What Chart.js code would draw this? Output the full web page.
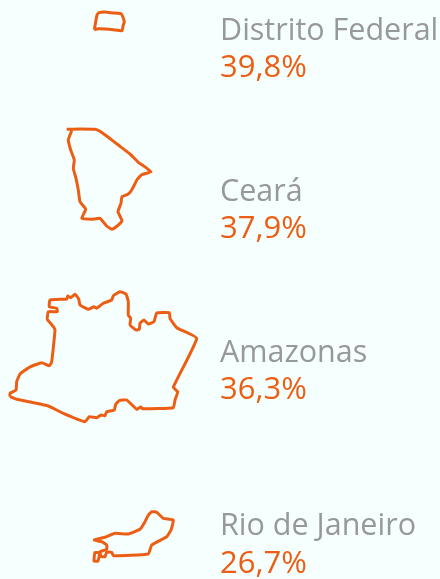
<!DOCTYPE html>
<html><head><meta charset="utf-8">
<style>html,body{margin:0;padding:0;background:#F5FFFD}canvas{display:block}</style>
<script src="https://cdn.jsdelivr.net/npm/chart.js@4/dist/chart.umd.js"></script>
</head><body>
<canvas id="c" width="440" height="579"></canvas>
<script>
const categories = ["Distrito Federal","Ceará","Amazonas","Rio de Janeiro"];
const shares = ["39,8%","37,9%","36,3%","26,7%"];
const distritoFederal = [[94.3,29.7],[95.7,21.7],[97,15],[99,12.7],[105,12],[113.3,13],[121,13.7],[123,17.3],[124.3,22],[123,26],[122,30.7],[113.3,29.7],[105,29],[98.3,28.7],[94.3,29.7]];
const ceara = [[66.7,129.3],[80,129],[95,129.3],[100,131.3],[108.3,137.3],[118.3,145],[130,154],[138.3,162.3],[143.3,165.7],[151,171.7],[141.7,174.7],[137.3,179.3],[131.7,190],[128.3,194],[122,196.7],[121,203.3],[118,211.7],[122,220.7],[118.3,225],[111.7,229.3],[106.7,226],[100,218.3],[91.7,219.3],[81.7,218.3],[85.7,209.3],[80,201.7],[78.3,190],[76,178.3],[73.3,168.3],[74.3,160],[70.7,150],[68.3,140],[71.7,130.7]];
const amazonas = [[10,396.7],[16.7,399.3],[33.3,402.7],[48.3,406],[63.3,413.3],[85,421.7],[89.3,416.7],[96.7,417.7],[101,415],[105,415.7],[106.7,411.7],[114.3,410],[115.7,404.3],[119.3,400.7],[126.7,400],[136.7,409.3],[140.7,407],[142.7,408.7],[173.3,407.7],[175,400],[177.7,391.7],[173.3,387.3],[196.7,338.3],[176.7,327.7],[170,318.3],[169.3,312.7],[156.7,313],[154,321.7],[148.3,324],[144,320],[140,323.3],[139.3,329.3],[136,330],[130,325],[130.7,318.3],[128.3,315],[128.3,301.7],[126,294],[120,291.7],[113.3,295.7],[111.7,300],[103.3,303.3],[96.7,308.3],[94,306.7],[88.3,309.3],[80,305],[78.7,299],[75,294.3],[70.7,297.7],[67.7,296],[66.7,299],[50,300],[49.3,306.7],[56.7,308.3],[57.3,311.7],[48.3,311.7],[47.3,319.3],[53.3,326.7],[55,330],[51.7,361.7],[49.3,365.7],[41.7,362.7],[29.3,367.3],[20,374],[16.7,381.7],[16,390],[10,393.3],[10,396.7]];
const rioDeJaneiro = [[148.3,515],[151.7,511.7],[156.7,512.3],[163.3,518.3],[173.3,520],[171,530],[166.7,536.7],[151.7,545],[148.3,554],[113.3,555.7],[111.7,552.3],[106.7,552.3],[105,556.7],[101,556.5],[100,553],[95,552.5],[94,561],[98,561],[99,557],[100,551.7],[106.7,549.3],[106.7,545],[101.7,541.7],[94.3,540],[105,537.3],[115,533.3],[128.3,534],[140,529.3],[145,521.7],[148.3,515]];
const outlines = [distritoFederal, ceara, amazonas, rioDeJaneiro];
const labelBaselines = [[40,77],[201,238],[362,399],[535,573]];

const ORANGE = "#EC5E14", GREY = "#97989A";
const FONT = '"Open Sans"';

const labelPlugin = {
  id: "stateLabels",
  afterDatasetsDraw(chart) {
    const { ctx, scales: { x, y } } = chart;
    ctx.save();
    ctx.textAlign = "left";
    ctx.textBaseline = "alphabetic";
    categories.forEach((name, i) => {
      ctx.fillStyle = GREY;
      ctx.font = "30.5px " + FONT;
      ctx.fillText(name, x.getPixelForValue(220), y.getPixelForValue(labelBaselines[i][0]));
      ctx.fillStyle = ORANGE;
      ctx.font = "31px " + FONT;
      ctx.fillText(shares[i], x.getPixelForValue(220), y.getPixelForValue(labelBaselines[i][1]));
    });
    ctx.restore();
  }
};

new Chart(document.getElementById("c"), {
  type: "scatter",
  data: {
    datasets: outlines.map((pts, i) => ({
      label: categories[i],
      data: pts.map(p => ({ x: p[0], y: p[1] })),
      showLine: true,
      borderColor: ORANGE,
      borderWidth: 3,
      tension: 0.12,
      pointRadius: 0,
      fill: false
    }))
  },
  options: {
    responsive: false,
    animation: false,
    layout: { padding: 0 },
    plugins: { legend: { display: false }, tooltip: { enabled: false } },
    scales: {
      x: { type: "linear", min: 0, max: 440, display: false },
      y: { type: "linear", min: 0, max: 579, reverse: true, display: false }
    }
  },
  plugins: [labelPlugin]
});
</script>
</body></html>
